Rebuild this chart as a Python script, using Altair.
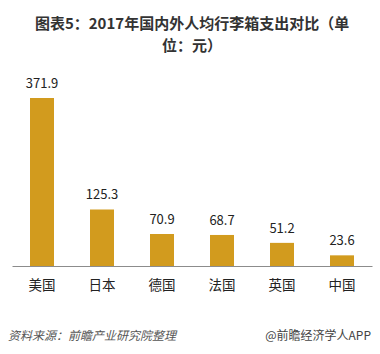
import altair as alt
import pandas as pd

countries = ["美国", "日本", "德国", "法国", "英国", "中国"]
values = [371.9, 125.3, 70.9, 68.7, 51.2, 23.6]
labels = ["371.9", "125.3", "70.9", "68.7", "51.2", "23.6"]

df = pd.DataFrame({"country": countries, "value": values, "label": labels})

FONT = "Noto Sans CJK SC"
x = alt.X("country:N", sort=countries,
          scale=alt.Scale(paddingInner=0.6, paddingOuter=0.3),
          axis=alt.Axis(title=None, labelAngle=0, ticks=False, domainColor="#8c8c8c",
                        domainWidth=1, labelFontSize=13.5, labelColor="#222",
                        labelFont=FONT, labelPadding=12))
y = alt.Y("value:Q", scale=alt.Scale(domain=[0, 442.7], nice=False, zero=True), axis=None)

bars = alt.Chart(df).mark_bar(color="#D29B1E").encode(x=x, y=y)
text = alt.Chart(df).mark_text(dy=-7, baseline="bottom", fontSize=13, font=FONT,
                               color="#222").encode(x=x, y=y, text="label:N")

foot_l = alt.Chart(pd.DataFrame({"t": ["资料来源：前瞻产业研究院整理"]})).mark_text(
    align="left", baseline="middle", fontSize=12, font=FONT, fontStyle="italic", color="#555"
).encode(x=alt.value(-4), y=alt.value(70), text="t:N")
foot_r = alt.Chart(pd.DataFrame({"t": ["@前瞻经济学人APP"]})).mark_text(
    align="right", baseline="middle", fontSize=12, font=FONT, color="#444"
).encode(x=alt.value(359), y=alt.value(70), text="t:N")

chart = alt.layer(bars, text, foot_l.encode(y=alt.value(270)), foot_r.encode(y=alt.value(270))).properties(
    width=360, height=200,
    padding={"left": 12, "top": 66, "right": 8, "bottom": 88},
    autosize=alt.AutoSizeParams(type="none"),
    title=alt.TitleParams(text=["图表5：2017年国内外人均行李箱支出对比（单", "位：元）"],
                          font=FONT, fontSize=15, fontWeight="bold", color="#333",
                          anchor="middle", lineHeight=22, offset=12),
    background="white",
).configure_view(stroke=None)

chart.save("out.html", embed_options={"renderer": "svg", "actions": False})
